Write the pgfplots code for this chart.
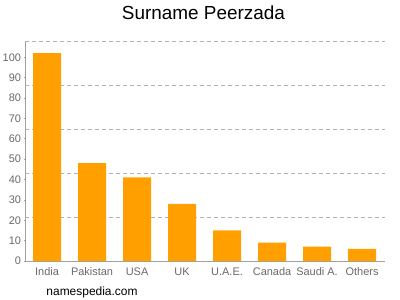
\documentclass[border=0pt]{standalone}
\usepackage{pgfplots}
\pgfplotsset{compat=1.18}
\usepackage{fontspec}
\setmainfont{Liberation Sans}
\definecolor{barorange}{RGB}{255,160,0}
\definecolor{ticktext}{RGB}{105,105,105}
\definecolor{axgray}{RGB}{160,160,160}
\begin{document}
\begin{tikzpicture}
\useasboundingbox (-25bp,-39bp) rectangle (375bp,261bp);
\begin{axis}[
  at={(0,0)}, anchor=south west,
  scale only axis, width=360bp, height=220bp,
  xmin=-0.49, xmax=7.51, ymin=0, ymax=108,
  xtick={0,1,2,3,4,5,6,7},
  xticklabels={India,Pakistan,USA,UK,U.A.E.,Canada,Saudi A.,Others},
  ytick={0,10,20,30,40,50,60,70,80,90,100},
  extra y ticks={21.6,43.2,64.8,86.4,108},
  extra y tick labels={},
  extra y tick style={grid=major, major grid style={dash pattern=on 4bp off 3bp, gray!60, line width=0.7pt}, major tick length=0pt},
  /pgf/number format/assume math mode=true,
  tick label style={font=\fontsize{11}{13}\selectfont, text=ticktext},
  axis x line=bottom, axis y line=left,
  axis line style={axgray, line width=0.8pt, -},
  tick style={axgray, line width=0.6pt},
  major tick length=3bp,
  xtick style={draw=none},
  ybar, bar width=28bp,
  xticklabel style={yshift=0bp},
  yticklabel style={xshift=1bp},
]
\addplot[fill=barorange, draw=none] coordinates {(0,102) (1,48) (2,41) (3,28) (4,15) (5,9) (6,7) (7,6)};
\end{axis}
\node[font=\fontsize{19}{22}\selectfont] at (178.5bp,248bp) {Surname Peerzada};
\node[font=\fontsize{12}{14}\selectfont] at (67bp,-31bp) {namespedia.com};
\end{tikzpicture}
\end{document}
